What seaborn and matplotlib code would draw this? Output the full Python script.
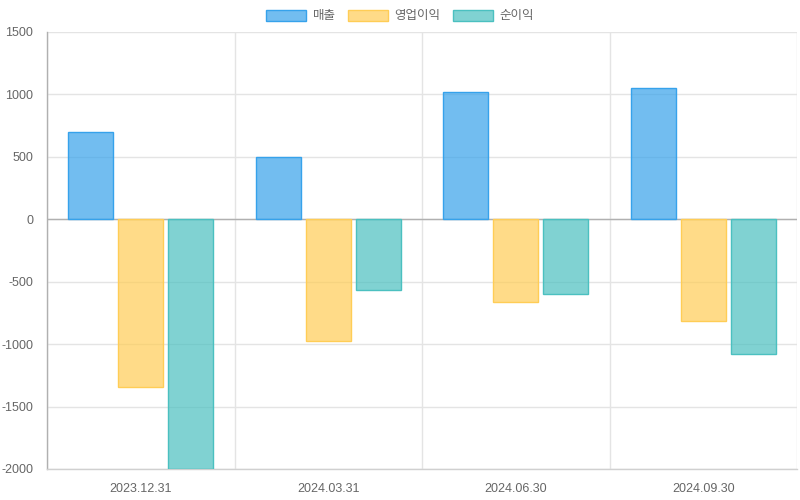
import matplotlib
matplotlib.use("Agg")
import matplotlib.pyplot as plt
import seaborn as sns
import pandas as pd
from matplotlib.patches import Patch
from matplotlib.colors import to_rgba

dates = ["2023.12.31", "2024.03.31", "2024.06.30", "2024.09.30"]
series = ["매출", "영업이익", "순이익"]
sales = [700, 500, 1020, 1050]
op_income = [-1340, -975, -665, -815]
net_income = [-2000, -568, -600, -1080]
yticks = [-2000, -1500, -1000, -500, 0, 500, 1000, 1500]

colors = ["#36a2eb", "#ffcd56", "#4bc0c0"]

sns.set_theme(style="white")
plt.rcParams["font.family"] = ["Liberation Sans", "Noto Sans CJK KR", "DejaVu Sans"]

rows = []
for name, vals in zip(series, [sales, op_income, net_income]):
    for d, v in zip(dates, vals):
        rows.append({"date": d, "series": name, "value": v})
df = pd.DataFrame(rows)

fig = plt.figure(figsize=(8, 5), dpi=100)
ax = fig.add_axes([47/800, 1 - 469/500, 750/800, 437/500])

sns.barplot(data=df, x="date", y="value", hue="series", order=dates,
            hue_order=series, palette=colors, width=0.8, gap=0.1,
            errorbar=None, ax=ax, legend=False, zorder=3)

for cont, c in zip(ax.containers, colors):
    for p in cont.patches:
        p.set_facecolor(to_rgba(c, 0.7))
        p.set_edgecolor(c)
        p.set_linewidth(1)

ax.set_xlim(-0.5, 3.5)
ax.set_ylim(-2000, 1500)
ax.set_yticks(yticks)
ax.set_yticklabels([str(t) for t in yticks])
ax.set_xlabel("")
ax.set_ylabel("")

grid_c = "#e4e4e4"
ax.set_xticks([i - 0.5 for i in range(len(dates) + 1)], minor=True)
ax.tick_params(axis="x", which="major", length=0, pad=10, labelsize=9, labelcolor="#666666")
ax.tick_params(axis="x", which="minor", length=10, color=grid_c, width=1)
ax.tick_params(axis="y", which="major", length=9, color=grid_c, width=1, pad=1,
               labelsize=9, labelcolor="#666666")
ax.grid(False)
ax.grid(True, axis="x", which="minor", color=grid_c, linewidth=1, zorder=0)
ax.grid(True, axis="y", which="major", color=grid_c, linewidth=1, zorder=0)
ax.axhline(0, color="#b0b0b0", linewidth=1, zorder=2)

for s in ["top", "right"]:
    ax.spines[s].set_visible(False)
ax.spines["left"].set_color("#b0b0b0")
ax.spines["left"].set_linewidth(1)
ax.spines["bottom"].set_color("#d0d0d0")
ax.spines["bottom"].set_linewidth(1)

handles = [Patch(facecolor=to_rgba(c, 0.7), edgecolor=c, linewidth=1) for c in colors]
fig.legend(handles, series, loc="center", bbox_to_anchor=(0.5, 1 - 16/500),
           ncol=3, frameon=False, fontsize=9, labelcolor="#666666",
           handlelength=3.2, handleheight=1.0, handletextpad=0.5, columnspacing=1.0)

fig.savefig("out.png", dpi=100)
